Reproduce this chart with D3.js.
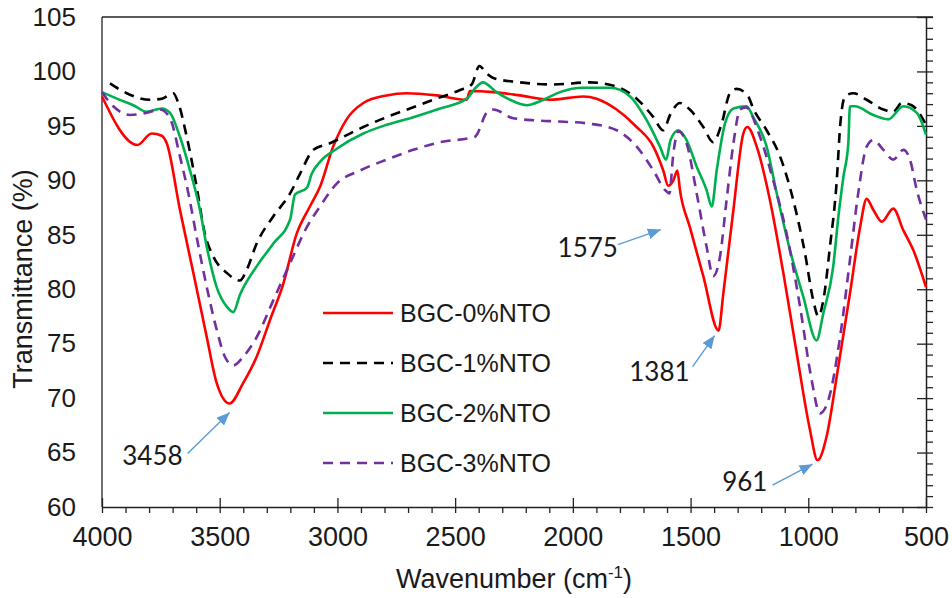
<!DOCTYPE html>
<html>
<head>
<meta charset="utf-8">
<script src="https://cdn.jsdelivr.net/npm/d3@7"></script>
<style>
  body { margin: 0; background: #fff; }
  text { font-family: "Liberation Sans", Arial, sans-serif; fill: #1a1a1a; }
  .note { font-family: Lato, "Open Sans", sans-serif; }
</style>
</head>
<body>
<div id="chart"></div>
<script>
// FTIR spectra, values
var bgc0Wave = [4000, 3850, 3789, 3746, 3725, 3669, 3612, 3555, 3513, 3458, 3400, 3343, 3286, 3230, 3173, 3117, 3074, 3018, 2961, 2890, 2791, 2706, 2578, 2451, 2437, 2338, 2225, 2097, 1956, 1899, 1814, 1729, 1658, 1616, 1595, 1573, 1556, 1545, 1503, 1446, 1381, 1361, 1318, 1276, 1259, 1219, 1163, 1106, 1049, 993, 961, 922, 879, 823, 780, 752, 724, 688, 639, 596, 554, 500];
var bgc0T = [97.7, 93.25, 94.3, 94.1, 93.4, 87.3, 81.5, 75.6, 71.4, 69.5, 71.4, 73.8, 77.2, 80.5, 85.1, 87.6, 89.4, 93.1, 95.6, 97.1, 97.8, 98.0, 97.8, 97.4, 98.2, 98.1, 97.8, 97.4, 97.7, 97.5, 96.5, 94.9, 93.1, 90.9, 89.5, 90.0, 90.9, 89.1, 85.7, 81.2, 76.2, 79.6, 87.3, 94.3, 94.9, 93.1, 88.2, 81.5, 74.1, 67.1, 64.3, 66.5, 72.0, 79.6, 85.7, 88.3, 87.3, 86.2, 87.4, 85.4, 83.6, 80.2];

var bgc1Wave = [3966, 3895, 3796, 3746, 3697, 3676, 3640, 3598, 3563, 3527, 3470, 3414, 3385, 3343, 3272, 3201, 3159, 3102, 3032, 2975, 2890, 2791, 2692, 2593, 2479, 2430, 2397, 2366, 2338, 2225, 2083, 1927, 1814, 1729, 1658, 1616, 1587, 1545, 1503, 1446, 1404, 1368, 1333, 1304, 1255, 1234, 1177, 1120, 1064, 1014, 979, 957, 936, 908, 879, 865, 844, 809, 752, 681, 639, 603, 561, 518, 500];
var bgc1T = [98.9, 98.0, 97.4, 97.5, 98.0, 97.1, 94.0, 89.4, 85.1, 83.0, 81.5, 80.8, 81.8, 84.2, 86.7, 88.8, 90.6, 92.8, 93.4, 94.0, 94.9, 95.8, 96.6, 97.4, 98.3, 98.8, 100.5, 99.8, 99.4, 99.0, 98.8, 99.0, 98.6, 97.5, 95.8, 94.6, 96.0, 97.1, 96.5, 94.9, 93.5, 95.2, 98.0, 98.4, 97.7, 96.6, 94.6, 92.2, 88.2, 83.3, 79.0, 77.5, 79.0, 83.9, 90.0, 94.9, 97.7, 98.0, 97.4, 96.5, 96.3, 97.1, 96.9, 95.8, 95.1];

var bgc2Wave = [4000, 3937, 3867, 3810, 3746, 3711, 3669, 3626, 3584, 3555, 3513, 3470, 3442, 3414, 3343, 3272, 3201, 3180, 3130, 3109, 3074, 3003, 2890, 2791, 2678, 2564, 2451, 2409, 2383, 2324, 2267, 2196, 2125, 2055, 1956, 1842, 1757, 1686, 1630, 1604, 1585, 1552, 1517, 1474, 1432, 1410, 1389, 1354, 1318, 1262, 1234, 1177, 1134, 1078, 1021, 965, 936, 894, 872, 851, 830, 823, 802, 724, 660, 596, 539, 500];
var bgc2T = [98.1, 97.5, 96.9, 96.3, 96.6, 96.2, 94.0, 90.9, 87.3, 83.9, 80.2, 78.4, 77.9, 79.5, 82.1, 84.2, 86.4, 88.7, 89.3, 90.6, 91.7, 92.9, 94.3, 95.1, 95.8, 96.6, 97.5, 98.6, 99.0, 98.1, 97.4, 96.9, 97.4, 98.1, 98.5, 98.5, 97.7, 95.5, 93.1, 91.9, 93.7, 94.6, 93.7, 91.25, 89.1, 87.6, 90.9, 95.2, 96.6, 96.8, 95.8, 93.1, 88.8, 83.6, 79.3, 75.3, 77.8, 82.1, 86.7, 90.3, 93.4, 96.8, 96.8, 96.0, 95.6, 96.8, 96.2, 94.2];

var bgc3Wave = [4000, 3952, 3881, 3810, 3754, 3711, 3669, 3633, 3598, 3555, 3513, 3478, 3442, 3400, 3343, 3272, 3201, 3130, 3074, 3003, 2904, 2791, 2678, 2564, 2416, 2366, 2338, 2253, 2154, 2055, 1927, 1814, 1729, 1658, 1608, 1590, 1573, 1552, 1517, 1474, 1432, 1404, 1375, 1347, 1318, 1290, 1265, 1205, 1149, 1092, 1035, 986, 951, 915, 865, 823, 788, 752, 724, 681, 639, 596, 568, 539, 500];
var bgc3T = [98.1, 96.8, 96.0, 96.2, 96.5, 95.7, 92.2, 88.8, 84.8, 80.2, 76.3, 73.8, 73.0, 73.8, 75.6, 79.0, 82.4, 85.7, 87.6, 89.7, 90.9, 91.9, 92.8, 93.5, 94.0, 96.2, 96.5, 95.7, 95.5, 95.4, 95.2, 94.6, 93.1, 90.9, 89.1, 88.8, 92.5, 94.5, 93.4, 88.8, 83.9, 81.2, 83.0, 88.2, 93.4, 96.5, 96.7, 94.0, 90.0, 85.1, 78.4, 71.7, 68.6, 69.8, 75.6, 82.7, 88.8, 93.1, 93.7, 92.8, 91.9, 92.8, 91.9, 89.1, 86.4];

var seriesNames = ["BGC-0%NTO", "BGC-1%NTO", "BGC-2%NTO", "BGC-3%NTO"];
var seriesColors = ["#ff0000", "#000000", "#00b050", "#7030a0"];
var seriesDash = [null, "10,7", null, "10,7"];

var xTicks = [4000, 3500, 3000, 2500, 2000, 1500, 1000, 500];
var yTicks = [60, 65, 70, 75, 80, 85, 90, 95, 100, 105];

// peak annotations
var peakLabels = ["3458", "1575", "1381", "961"];
var peakWave = [3458, 1575, 1381, 961];
var peakT = [69.5, 90.8, 76.2, 64.3];

var svgWidth = 952;
var svgHeight = 598;
var margin = { top: 17, right: 26, bottom: 91, left: 102 };
var width = svgWidth - margin.left - margin.right;
var height = svgHeight - margin.top - margin.bottom;

var svg = d3.select("#chart")
  .append("svg")
  .attr("width", svgWidth)
  .attr("height", svgHeight);

var chartGroup = svg.append("g")
  .attr("transform", `translate(${margin.left}, ${margin.top})`);

var xScale = d3.scaleLinear().domain([4000, 500]).range([0, width]);
var yScale = d3.scaleLinear().domain([60, 105]).range([height, 0]);

// frame: left and top lines
chartGroup.append("line")
  .attr("x1", 0).attr("x2", 0).attr("y1", 0).attr("y2", height)
  .attr("stroke", "#404040").attr("stroke-width", 1.5);
chartGroup.append("line")
  .attr("x1", 0).attr("x2", width + 7).attr("y1", 0).attr("y2", 0)
  .attr("stroke", "#222").attr("stroke-width", 1.5);

// left axis: labels only
var leftAxis = chartGroup.append("g")
  .call(d3.axisLeft(yScale).tickValues(yTicks).tickSize(0).tickPadding(26));
leftAxis.select(".domain").remove();
leftAxis.selectAll("text").attr("font-size", 26).style("font-family", "Liberation Sans, Arial, sans-serif").attr("fill", "#1a1a1a");

// bottom axis: minor ticks outside, major ticks crossing
var minorX = d3.range(500, 4001, 100).filter(d => d % 500 !== 0);
chartGroup.append("g")
  .attr("transform", `translate(0, ${height})`)
  .call(d3.axisBottom(xScale).tickValues(minorX).tickSize(6).tickSizeOuter(0).tickFormat(""))
  .call(g => g.select(".domain").attr("stroke", "#222").attr("stroke-width", 1.5))
  .call(g => g.selectAll("line").attr("stroke", "#222").attr("stroke-width", 1.3));

var bottom = chartGroup.append("g")
  .attr("transform", `translate(0, ${height})`)
  .call(d3.axisBottom(xScale).tickValues(xTicks).tickSize(6).tickSizeOuter(0).tickPadding(14).tickFormat(d3.format("d")));
bottom.select(".domain").remove();
bottom.selectAll(".tick line").attr("y1", -9).attr("stroke", "#222").attr("stroke-width", 1.3);
bottom.selectAll("text").attr("font-size", 27).style("font-family", "Liberation Sans, Arial, sans-serif").attr("fill", "#1a1a1a");

// right axis: ticks only
var minorY = d3.range(60, 106, 1).filter(d => d % 5 !== 0);
chartGroup.append("g")
  .attr("transform", `translate(${width}, 0)`)
  .call(d3.axisRight(yScale).tickValues(minorY).tickSize(7).tickSizeOuter(0).tickFormat(""))
  .call(g => g.select(".domain").attr("stroke", "#222").attr("stroke-width", 1.5))
  .call(g => g.selectAll("line").attr("stroke", "#222").attr("stroke-width", 1.3));
var right = chartGroup.append("g")
  .attr("transform", `translate(${width}, 0)`)
  .call(d3.axisRight(yScale).tickValues(yTicks).tickSize(7).tickSizeOuter(0).tickFormat(""));
right.select(".domain").remove();
right.selectAll(".tick line").attr("x1", -9).attr("stroke", "#222").attr("stroke-width", 1.3);

// spectra
var allWave = [bgc0Wave, bgc1Wave, bgc2Wave, bgc3Wave];
var allT = [bgc0T, bgc1T, bgc2T, bgc3T];

var line = d3.line()
  .x(d => xScale(d[0]))
  .y(d => yScale(d[1]))
  .curve(d3.curveMonotoneX);

seriesNames.forEach(function(name, i) {
  var pts = allWave[i].map((w, j) => [w, allT[i][j]]);
  chartGroup.append("path")
    .datum(pts)
    .attr("fill", "none")
    .attr("stroke", seriesColors[i])
    .attr("stroke-width", 2.6)
    .attr("stroke-dasharray", seriesDash[i])
    .attr("d", line);
});

// legend
var legend = svg.append("g").attr("transform", "translate(323, 313)");
seriesNames.forEach(function(name, i) {
  var row = legend.append("g").attr("transform", `translate(0, ${i * 50})`);
  row.append("line")
    .attr("x1", 0).attr("x2", 70).attr("y1", 0).attr("y2", 0)
    .attr("stroke", seriesColors[i])
    .attr("stroke-width", 2.6)
    .attr("stroke-dasharray", seriesDash[i]);
  row.append("text")
    .attr("x", 77).attr("dy", "0.35em")
    .attr("font-size", 25)
    .text(name);
});

// arrows
svg.append("defs").append("marker")
  .attr("id", "head")
  .attr("viewBox", "0 0 12 10")
  .attr("refX", 12).attr("refY", 5)
  .attr("markerWidth", 13).attr("markerHeight", 11)
  .attr("markerUnits", "userSpaceOnUse")
  .attr("orient", "auto")
  .append("path").attr("d", "M0,0L12,5L0,10Z").attr("fill", "#5b9bd5");

// offsets from the peak point: arrow tip, arrow start, label (right end, middle)
var tipDx = [0, -12, -4, -5];
var tipDy = [9, 58, 5, 4];
var startDx = [-42, -55, -26, -45];
var startDy = [50, 73, 36, 25];
var labelDx = [-47, -55, -29, -50];
var labelDy = [52, 76, 41, 22];

peakLabels.forEach(function(lab, i) {
  var px = margin.left + xScale(peakWave[i]);
  var py = margin.top + yScale(peakT[i]);
  svg.append("line")
    .attr("x1", px + startDx[i]).attr("y1", py + startDy[i])
    .attr("x2", px + tipDx[i]).attr("y2", py + tipDy[i])
    .attr("stroke", "#5b9bd5").attr("stroke-width", 1.4)
    .attr("marker-end", "url(#head)");
  svg.append("text")
    .attr("class", "note")
    .attr("x", px + labelDx[i]).attr("y", py + labelDy[i])
    .attr("text-anchor", "end")
    .attr("dy", "0.35em")
    .attr("font-size", 26)
    .style("font-family", "Lato, 'Open Sans', sans-serif")
    .text(lab);
});

// axis titles
var xTitle = svg.append("text")
  .attr("x", margin.left + width / 2)
  .attr("y", 588)
  .attr("text-anchor", "middle")
  .attr("font-size", 27);
xTitle.append("tspan").text("Wavenumber (cm");
xTitle.append("tspan").attr("font-size", 17).attr("dy", -10).text("-1");
xTitle.append("tspan").attr("dy", 10).text(")");

svg.append("text")
  .attr("transform", "translate(32, 279) rotate(-90)")
  .attr("text-anchor", "middle")
  .attr("font-size", 27)
  .text("Transmittance (%)");
</script>
</body>
</html>
